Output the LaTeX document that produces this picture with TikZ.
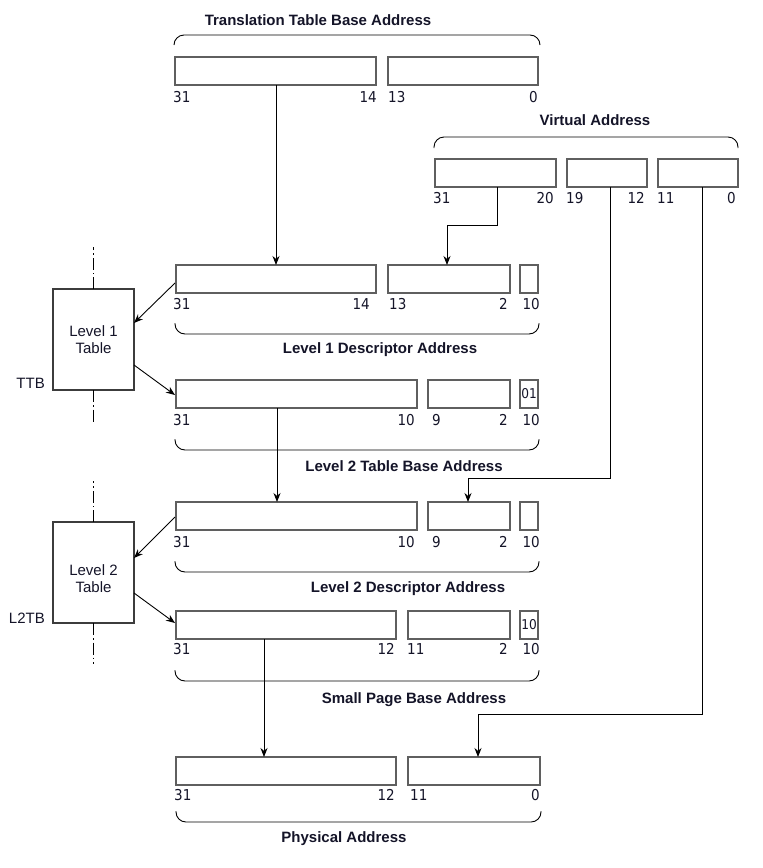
\documentclass[tikz,border=0pt]{standalone}
\usepackage{fontspec}
\setmainfont{Liberation Sans}
\newfontfamily\numfont[FakeStretch=0.9]{DejaVu Sans}
\usetikzlibrary{arrows.meta,calc}
\definecolor{txt}{RGB}{20,20,40}
\definecolor{fldline}{RGB}{95,95,95}
\definecolor{tblline}{RGB}{60,60,60}
\tikzset{
  fld/.style={draw=fldline, line width=1.8pt, fill=white, inner sep=0pt, outer sep=0pt, anchor=north west},
  tbl/.style={draw=tblline, line width=1.8pt, inner sep=0pt, outer sep=0pt, anchor=north west, minimum width=81pt, minimum height=101pt},
  tbltxt/.style={align=center, inner sep=0pt, text=txt, font=\fontsize{15}{17}\selectfont},
  bitl/.style={anchor=base west, inner sep=0pt, text=txt, font=\numfont\fontsize{15}{18}\selectfont},
  bitr/.style={bitl, anchor=base east},
  inbit/.style={inner sep=0pt, text=txt, font=\numfont\fontsize{13.5}{15}\selectfont},
  ttl/.style={anchor=base, inner sep=0pt, text=txt, font=\bfseries\fontsize{15}{18}\selectfont},
  sidelbl/.style={anchor=base east, inner sep=0pt, text=txt, font=\fontsize{15}{18}\selectfont},
  brc/.style={line width=0.9pt, rounded corners=10pt},
  arr/.style={line width=0.9pt, -{Stealth[length=9pt,width=7pt]}},
  axisln/.style={line width=0.8pt, dash pattern=on 12pt off 3pt on 1.5pt off 3pt},
}
\newcommand\fieldbox[5]{\node[fld, minimum width={#4pt-#2pt}, minimum height={#5pt-#3pt}] (#1) at (#2,#3) {};}
\begin{document}
\begin{tikzpicture}[x=1pt,y=-1pt]
\useasboundingbox (0,0) rectangle (763,868);

% ---- Translation Table Base Address
\node[ttl] (tttba) at (318,25) {Translation Table Base Address};
\draw[brc] (174,45) -- (174,35) -- (540,35) -- (540,45);
\fieldbox{tb1}{175}{57}{376}{85}
\fieldbox{tb2}{388}{57}{538}{85}
\node[bitl] (tba) at (173,102) {31};
\node[bitr] (tbb) at (377,102) {14};
\node[bitl] (tbc) at (388,102) {13};
\node[bitr] (tbd) at (538,102) {0};

% ---- Virtual Address
\node[ttl] (tva) at (595,125) {Virtual Address};
\draw[brc] (434,148) -- (434,137) -- (738,137) -- (738,148);
\fieldbox{va1}{435}{159}{556}{187}
\fieldbox{va2}{567}{159}{647}{187}
\fieldbox{va3}{658}{159}{738}{187}
\node[bitl] (vaa) at (433,203) {31};
\node[bitr] (vab) at (554,203) {20};
\node[bitl] (vac) at (566,203) {19};
\node[bitr] (vad) at (645,203) {12};
\node[bitl] (vae) at (657,203) {11};
\node[bitr] (vaf) at (736,203) {0};

% ---- Level 1 Descriptor Address
\fieldbox{l1d1}{176}{265}{376}{293}
\fieldbox{l1d2}{388}{265}{510}{293}
\fieldbox{l1d3}{520}{265}{538}{293}
\node[bitl] (l1a) at (173,309) {31};
\node[bitr] (l1b) at (370,309) {14};
\node[bitl] (l1c) at (389,309) {13};
\node[bitr] (l1d) at (508,309) {2};
\node[bitr] (l1e) at (540,309) {10};
\draw[brc] (175,323) -- (175,334) -- (539,334) -- (539,323);
\node[ttl] (tl1d) at (380,353) {Level 1 Descriptor Address};

% ---- Level 2 Table Base Address
\fieldbox{l2tb1}{176}{380}{417}{408}
\fieldbox{l2tb2}{428}{380}{510}{408}
\fieldbox{l2tb3}{520}{380}{538}{408}
\node[inbit] (b01) at (l2tb3.center) {01};
\node[bitl] (l2a) at (173,425) {31};
\node[bitr] (l2b) at (415,425) {10};
\node[bitl] (l2c) at (432,425) {9};
\node[bitr] (l2d) at (508,425) {2};
\node[bitr] (l2e) at (540,425) {10};
\draw[brc] (175,439) -- (175,450) -- (539,450) -- (539,439);
\node[ttl] (tl2tb) at (404,471) {Level 2 Table Base Address};

% ---- Level 2 Descriptor Address
\fieldbox{l2d1}{176}{502}{417}{530}
\fieldbox{l2d2}{428}{502}{510}{530}
\fieldbox{l2d3}{520}{502}{538}{530}
\node[bitl] (l3a) at (173,547) {31};
\node[bitr] (l3b) at (415,547) {10};
\node[bitl] (l3c) at (432,547) {9};
\node[bitr] (l3d) at (508,547) {2};
\node[bitr] (l3e) at (540,547) {10};
\draw[brc] (175,561) -- (175,572) -- (539,572) -- (539,561);
\node[ttl] (tl2d) at (408,592) {Level 2 Descriptor Address};

% ---- Small Page Base Address
\fieldbox{sp1}{176}{611}{396}{639}
\fieldbox{sp2}{408}{611}{510}{639}
\fieldbox{sp3}{520}{611}{538}{639}
\node[inbit] (b10) at (sp3.center) {10};
\node[bitl] (spa) at (173,654) {31};
\node[bitr] (spb) at (395,654) {12};
\node[bitl] (spc) at (407,654) {11};
\node[bitr] (spd) at (508,654) {2};
\node[bitr] (spe) at (540,654) {10};
\draw[brc] (175,670) -- (175,681) -- (539,681) -- (539,670);
\node[ttl] (tsp) at (414,703) {Small Page Base Address};

% ---- Physical Address
\fieldbox{pa1}{176}{757}{396}{785}
\fieldbox{pa2}{408}{757}{540}{785}
\node[bitl] (paa) at (174,800) {31};
\node[bitr] (pab) at (395,800) {12};
\node[bitl] (pac) at (410,800) {11};
\node[bitr] (pad) at (540,800) {0};
\draw[brc] (176,811) -- (176,822) -- (541,822) -- (541,811);
\node[ttl] (tpa) at (344,842) {Physical Address};

% ---- Level tables
\node[tbl] (lt1) at (53,289) {};
\node[tbltxt] (lt1t) at (lt1.center) {Level 1\\Table};
\node[sidelbl] (ttb) at (45,388) {TTB};
\draw[axisln] (lt1.north) -- ++(0,-42);
\draw[axisln] (lt1.south) -- ++(0,32);

\node[tbl] (lt2) at (53,522) {};
\node[tbltxt] (lt2t) at ($(lt2.center)+(0,6)$) {Level 2\\Table};
\node[sidelbl] (l2tb) at (45,623) {L2TB};
\draw[axisln] (lt2.north) -- ++(0,-41);
\draw[axisln] (lt2.south) -- ++(0,41);

% ---- Connectors
\draw[arr] ($(tb1.south west)+(101,0)$) -- ($(l1d1.north west)+(100,0)$);
\draw[arr] ([xshift=2pt]va1.south) -- ++(0,38) -| ([xshift=-2pt]l1d2.north);
\draw[arr] ([xshift=3pt]va2.south) -- ++(0,291) -| ([xshift=-1pt]l2d2.north);
\draw[arr] ([xshift=4pt]va3.south) -- ++(0,527) -| ([xshift=4pt]pa2.north);
\draw[arr] ($(l2tb1.south west)+(101,0)$) -- ($(l2d1.north west)+(101,0)$);
\draw[arr] ($(sp1.south west)+(88,0)$) -- ($(pa1.north west)+(88,0)$);

\draw[arr] ($(l1d1.north west)+(-1,18)$) -- ($(lt1.north east)+(0,34)$);
\draw[arr] ($(lt1.north east)+(0,76)$) -- ($(l2tb1.north west)+(-1,15)$);
\draw[arr] ($(l2d1.north west)+(-1,15)$) -- ($(lt2.north east)+(0,36)$);
\draw[arr] ($(lt2.north east)+(0,71)$) -- ($(sp1.north west)+(-1,12)$);
\end{tikzpicture}
\end{document}
